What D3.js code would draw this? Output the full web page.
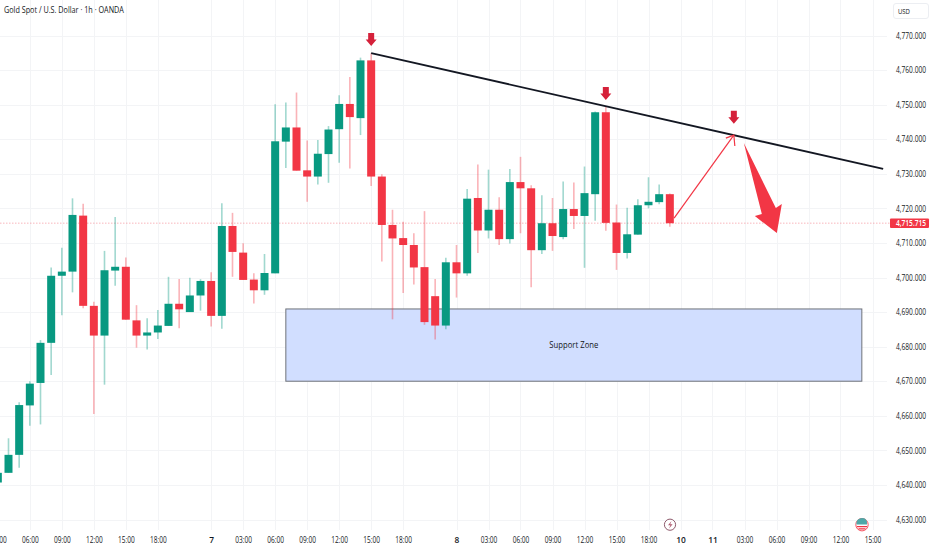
<!DOCTYPE html>
<html><head><meta charset="utf-8">
<script src="https://cdnjs.cloudflare.com/ajax/libs/d3/7.8.5/d3.min.js"></script>
<style>html,body{margin:0;padding:0;background:#fff;overflow:hidden}svg{display:block}
text{font-family:"Open Sans","Noto Sans",sans-serif}</style></head><body>
<svg id="c" width="932" height="550"></svg>
<script>
const title = "Gold Spot / U.S. Dollar · 1h · OANDA";
const firstBar = -1;
const opens = [4640.7,4643.5,4648.7,4663.0,4669.5,4681.1,4700.5,4701.7,4717.9,4691.8,4683.2,4702.0,4703.1,4687.6,4683.2,4684.1,4686.0,4692.4,4690.0,4694.8,4699.0,4688.9,4714.9,4707.2,4699.4,4696.3,4701.2,4739.3,4743.4,4731.0,4729.2,4735.7,4742.9,4750.2,4746.1,4762.8,4729.2,4715.2,4711.4,4709.4,4703.0,4694.6,4686.1,4704.4,4701.2,4723.0,4713.6,4719.6,4711.1,4727.6,4725.8,4707.9,4715.7,4711.7,4719.8,4717.8,4724.1,4747.8,4715.9,4707.1,4712.4,4720.9,4721.8,4724.1];
const closes = [4643.5,4648.7,4663.1,4669.3,4681.1,4700.5,4701.7,4718.1,4691.8,4683.2,4702.1,4703.1,4687.8,4683.2,4684.1,4686.1,4692.4,4690.8,4694.8,4699.0,4688.9,4714.9,4707.4,4699.3,4696.3,4701.3,4739.4,4743.4,4730.9,4729.2,4735.8,4742.8,4750.2,4746.4,4762.8,4729.2,4715.2,4711.3,4709.4,4702.9,4687.1,4686.1,4704.4,4701.2,4722.8,4713.6,4719.6,4711.1,4727.6,4725.8,4707.9,4715.7,4712.0,4719.8,4717.8,4724.4,4747.8,4715.8,4707.1,4712.5,4720.9,4721.9,4724.1,4715.7];
const highs = [4644.0,4653.5,4663.9,4670.0,4681.9,4702.9,4708.6,4722.9,4721.3,4693.0,4707.7,4717.5,4705.8,4692.0,4688.2,4690.6,4700.2,4699.6,4699.9,4699.5,4701.5,4721.5,4718.7,4709.9,4701.2,4706.8,4750.1,4750.6,4753.5,4739.6,4739.8,4743.8,4752.7,4758.0,4763.6,4764.9,4729.9,4719.6,4716.1,4712.8,4719.2,4699.6,4705.7,4709.4,4725.6,4732.7,4731.2,4723.2,4731.4,4734.9,4726.7,4723.8,4723.0,4727.8,4727.5,4732.1,4748.0,4749.4,4721.1,4720.2,4722.6,4729.0,4726.9,4724.3];
const lows = [4640.2,4643.5,4645.0,4657.1,4657.5,4671.8,4689.1,4695.7,4691.1,4660.5,4669.0,4697.6,4687.8,4679.7,4679.2,4682.2,4686.0,4685.3,4690.0,4690.4,4685.8,4685.2,4700.2,4699.3,4692.5,4695.0,4701.2,4731.7,4730.9,4721.9,4726.9,4727.4,4733.2,4731.5,4741.2,4726.5,4704.6,4687.9,4695.5,4698.0,4686.3,4682.1,4685.0,4694.2,4700.5,4707.1,4711.3,4709.4,4709.8,4712.8,4697.2,4706.8,4707.7,4711.1,4714.0,4702.8,4716.4,4713.5,4702.2,4705.5,4712.4,4720.0,4721.2,4714.7];
const priceTicks = [4770,4760,4750,4740,4730,4720,4710,4700,4690,4680,4670,4660,4650,4640,4630];
const timeTickBars = [-1,2,5,8,11,14,19,22,25,28,31,34,37,42,45,48,51,54,57,60,63,66,69,72,75,78,81];
const timeTickLabels = ["03:00","06:00","09:00","12:00","15:00","18:00","7","03:00","06:00","09:00","12:00","15:00","18:00","8","03:00","06:00","09:00","12:00","15:00","18:00","10","11","03:00","06:00","09:00","12:00","15:00"];
const lastPrice = 4715.715;
const trendBars = [34,82], trendPrices = [4764.9,4731.4];
const pathBars = [62.4,68], pathPrices = [4717.2,4741.2];
const zoneBars = [26,80], zonePrices = [4690.9,4670];
const zoneLabel = "Support Zone";
const markBars = [34,56,68], markPrices = [4770.7,4755.1,4748.2];

const svg = d3.select("#c");
const x = d3.scaleLinear().domain([0,81]).range([8.5,872.5]);
const y = d3.scaleLinear().domain([4770,4630]).range([35.5,519.5]);
const GREEN="#089981", RED="#f23645", plotR=887;
const n = opens.length, bars = d3.range(n);
const bx = i => x(firstBar+i);
// squeeze a text horizontally, about its own anchor, to the width it has in the picture
function fit(el, w){
  const ax=+el.getAttribute("x")||0, k=w/el.getComputedTextLength();
  el.setAttribute("transform",`translate(${ax*(1-k)},0) scale(${k},1)`);
}

// grid
const grid = svg.append("g").attr("stroke","#f3f4f6").attr("stroke-width",1);
grid.selectAll(".h").data(priceTicks).join("line").attr("x1",0).attr("x2",plotR)
  .attr("y1",d=>Math.round(y(d))+.5).attr("y2",d=>Math.round(y(d))+.5);
grid.selectAll(".v").data(timeTickBars).join("line").attr("y1",0).attr("y2",530)
  .attr("x1",d=>Math.round(x(d))+.5).attr("x2",d=>Math.round(x(d))+.5);

// zone
const zone = svg.append("g");
zone.append("rect").attr("x",x(zoneBars[0])).attr("width",x(zoneBars[1])-x(zoneBars[0]))
  .attr("y",y(zonePrices[0])).attr("height",y(zonePrices[1])-y(zonePrices[0]))
  .attr("fill","#d1deff").attr("stroke","#6f7279").attr("stroke-width",1);
const zt=zone.append("text").attr("x",(x(zoneBars[0])+x(zoneBars[1]))/2).attr("y",(y(zonePrices[0])+y(zonePrices[1]))/2+3)
  .attr("text-anchor","middle").attr("font-size",8.4).attr("fill","#131722").text(zoneLabel);
fit(zt.node(),49);

// price line
svg.append("line").attr("x1",0).attr("x2",890).attr("y1",y(lastPrice)).attr("y2",y(lastPrice))
  .attr("stroke",RED).attr("stroke-opacity",.45).attr("stroke-width",.8).attr("stroke-dasharray","1.5 1.5");

// candles
const col = i => closes[i]>=opens[i]?GREEN:RED;
svg.append("g").selectAll("line").data(bars).join("line")
  .attr("x1",bx).attr("x2",bx).attr("y1",i=>y(highs[i])).attr("y2",i=>y(lows[i]))
  .attr("stroke",col).attr("stroke-opacity",.38).attr("stroke-width",1.6);
svg.append("g").selectAll("rect").data(bars).join("rect")
  .attr("x",i=>bx(i)-4).attr("width",8)
  .attr("y",i=>y(Math.max(opens[i],closes[i])))
  .attr("height",i=>Math.max(1.5,Math.abs(y(opens[i])-y(closes[i]))))
  .attr("fill",col);

// trend line
svg.append("line").attr("x1",x(trendBars[0])).attr("x2",x(trendBars[1]))
  .attr("y1",y(trendPrices[0])).attr("y2",y(trendPrices[1]))
  .attr("stroke","#131722").attr("stroke-width",1.8);

// thin arrow
const ax0=x(pathBars[0]),ay0=y(pathPrices[0]),ax1=x(pathBars[1]),ay1=y(pathPrices[1]);
const arrow=svg.append("g").attr("stroke",RED).attr("stroke-width",1.2).attr("fill","none");
arrow.append("line").attr("x1",ax0).attr("y1",ay0).attr("x2",ax1).attr("y2",ay1);
arrow.append("path").attr("d",`M${ax1-8},${ay1+3}L${ax1},${ay1}L${ax1+1},${ay1+11}`);

// big arrow
const tipX=x(68), tipY=y(4741.2);
svg.append("path").attr("fill",RED)
  .attr("d",`M${tipX+10},${tipY+8} L${tipX+42},${tipY+73} L${tipX+48},${tipY+69} L${tipX+43},${tipY+98} L${tipX+21},${tipY+81} L${tipX+28},${tipY+79} Z`);

// markers
svg.append("g").selectAll("path").data(markBars).join("path")
  .attr("fill","#d5213a")
  .attr("d",(d,i)=>{const cx=x(d), t=y(markPrices[i]);
    return `M${cx-3},${t}h6v6.5h2.5L${cx},${t+13}L${cx-5.5},${t+6.5}h2.5Z`;});

// axes
const yAxis=d3.axisRight(y).tickValues(priceTicks).tickSize(0).tickFormat(d3.format(",.3f"));
const yg=svg.append("g").attr("transform","translate(896,0)").call(yAxis);
yg.select(".domain").remove();
yg.selectAll("text").attr("x",0).attr("dy","0.32em").attr("font-size",8.4).attr("font-family",null).attr("fill","#131722")
  .each(function(){fit(this,30);});
const xAxis=d3.axisBottom(x).tickValues(timeTickBars).tickSize(0).tickFormat((d,i)=>timeTickLabels[i]);
const xg=svg.append("g").attr("transform","translate(0,537)").call(xAxis);
xg.select(".domain").remove();
xg.selectAll("text").attr("y",0).attr("dy","0.75em").attr("font-size",8.4).attr("font-family",null)
  .attr("fill","#131722").attr("font-weight",(d,i)=>timeTickLabels[i].includes(":")?400:600)
  .each(function(d,i){ if(timeTickLabels[i].includes(":")) fit(this,16.7); });

// title + unit + price tag
const tt=svg.append("text").attr("x",4).attr("y",13).attr("font-size",8.8).attr("font-weight",500).attr("fill","#131722").text(title);
fit(tt.node(),120);
svg.append("rect").attr("x",893.5).attr("y",3.5).attr("width",35).attr("height",15).attr("rx",2.5).attr("fill","#fff").attr("stroke","#eceef2");
const ut=svg.append("text").attr("x",898).attr("y",14).attr("font-size",8).attr("fill","#131722").text("USD");
fit(ut.node(),12);
svg.append("rect").attr("x",890).attr("y",y(lastPrice)-4.7).attr("width",39).attr("height",9.5).attr("rx",1).attr("fill",RED);
const pt=svg.append("text").attr("x",896).attr("y",y(lastPrice)+3).attr("font-size",8.4).attr("font-weight",600).attr("fill","#fff").text(d3.format(",.3f")(lastPrice));
fit(pt.node(),30);

// event icons
const ev=svg.append("g");
ev.append("circle").attr("cx",670).attr("cy",524.7).attr("r",5.6).attr("fill","#fff").attr("stroke","#8e5a6c").attr("stroke-width",1);
ev.append("path").attr("d","M671.5,521L668,525.2h2.4L669,528.5L672.6,524.2h-2.4Z").attr("fill","#b05a70");
ev.append("circle").attr("cx",862).attr("cy",524.7).attr("r",6.2).attr("fill","#fff").attr("stroke","#f7525f").attr("stroke-width",1);
ev.append("path").attr("d","M856.5,524.5A5.5,5.5 0 0 1 867,521.5V524.5Z").attr("fill","#4fa8a8");
ev.append("path").attr("d","M857,526h10v1.3h-10ZM858.5,528.3h7v1.2h-7Z").attr("fill","#f23645");
</script></body></html>
